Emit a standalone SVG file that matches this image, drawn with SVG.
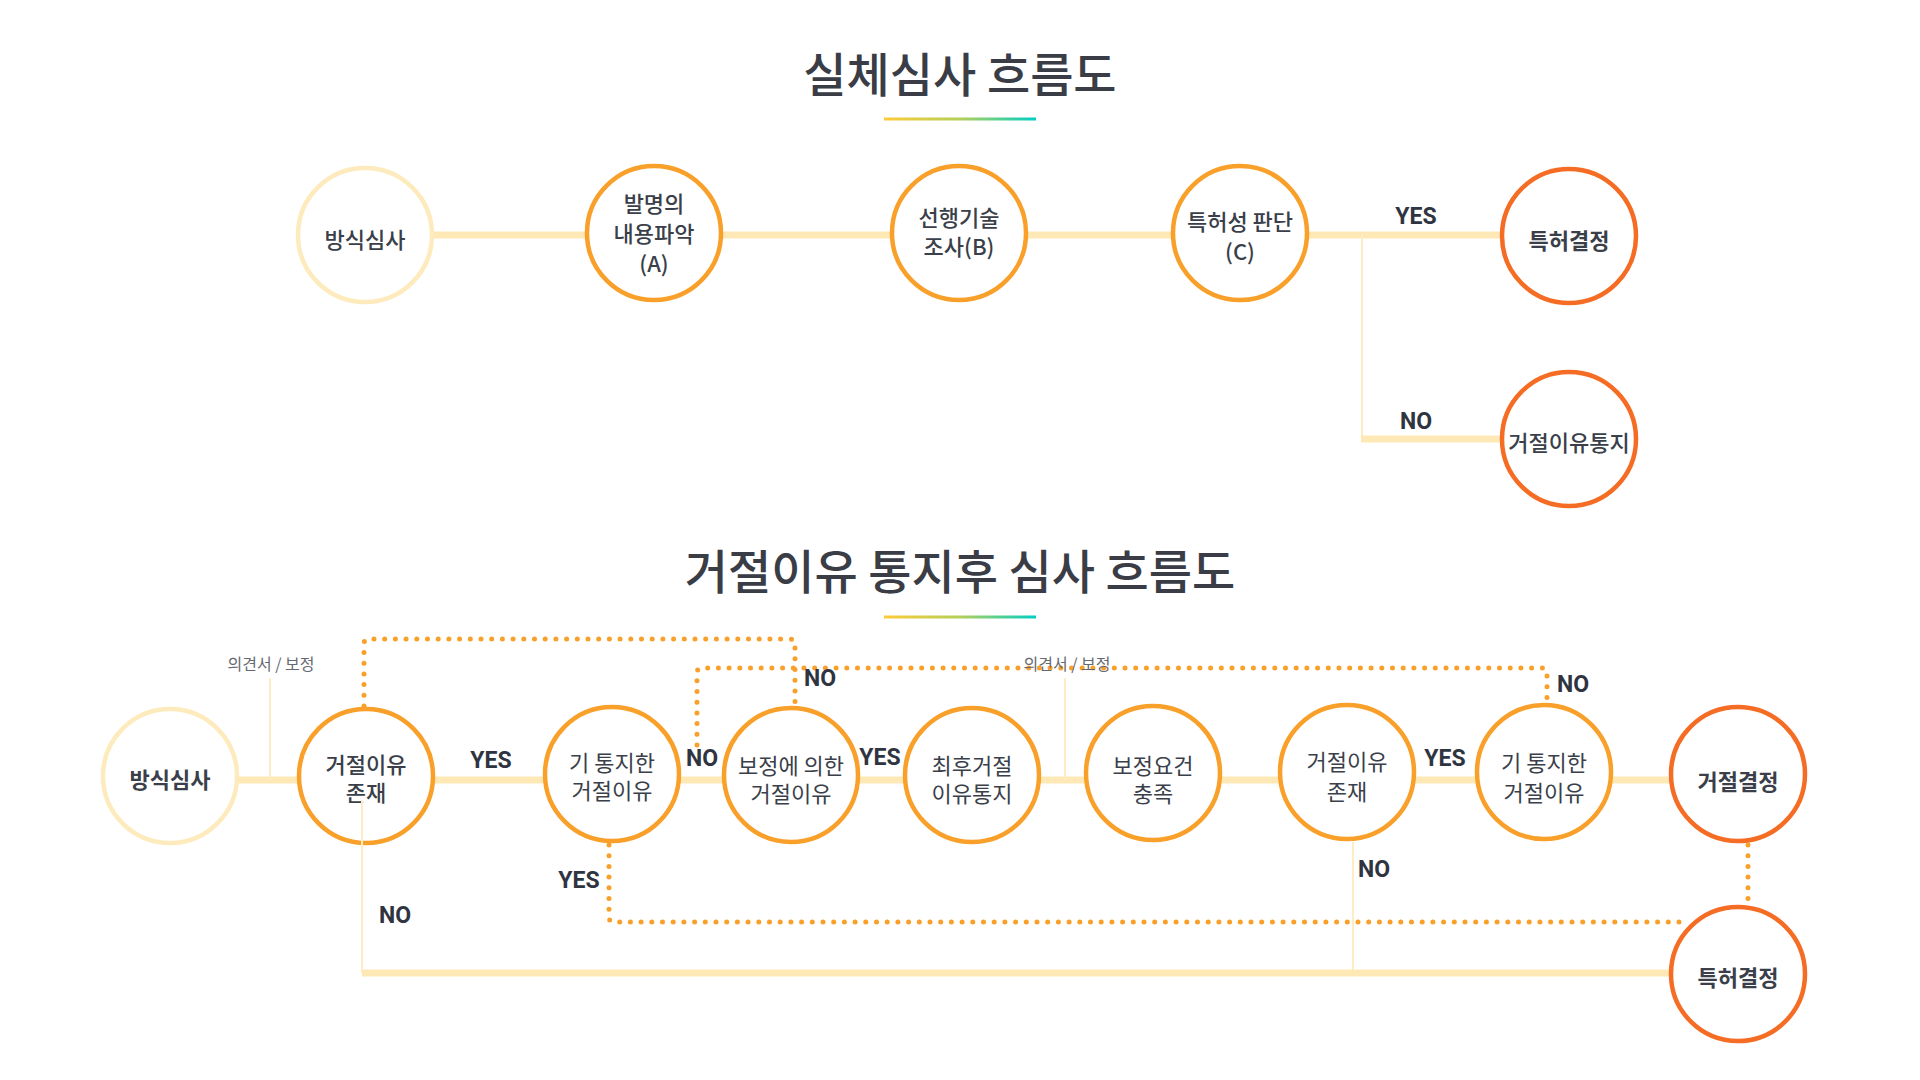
<svg xmlns="http://www.w3.org/2000/svg" width="1920" height="1080" viewBox="0 0 1920 1080">
<defs>
<linearGradient id="ul" x1="0" y1="0" x2="1" y2="0">
<stop offset="0" stop-color="#ffcb38"/>
<stop offset="0.5" stop-color="#b3cf58"/>
<stop offset="1" stop-color="#00cfc4"/>
</linearGradient>
<style>
.title{font-family:"Noto Sans CJK KR","Noto Sans",sans-serif;font-size:47px;font-weight:500;fill:#3a3d45;text-anchor:middle}
.nt{font-family:"Noto Sans CJK KR","Noto Sans",sans-serif;font-size:22px;font-weight:400;fill:#3a3f4a;text-anchor:middle}
.nb{font-weight:700}
.nm{font-weight:500}
.lab{font-family:Roboto,"Liberation Sans",sans-serif;font-size:23px;font-weight:700;fill:#2f3441;text-anchor:middle}
.note{font-family:"Noto Sans CJK KR","Noto Sans",sans-serif;font-size:16px;fill:#666a70;text-anchor:middle}
.pale{fill:#fff;stroke:#feebbd;stroke-width:4.5}
.mid{fill:#fff;stroke:#f9a02a;stroke-width:4.5}
.fin{fill:#fff;stroke:#f56d24;stroke-width:4.5}
.thick{stroke:#fee9b6;stroke-width:7;fill:none}
.thin{stroke:#fdecc4;stroke-width:2;fill:none}
.dot{stroke:#f9a02a;stroke-width:5;fill:none;stroke-linecap:round;stroke-dasharray:0 10.7}
</style>
</defs>
<rect width="1920" height="1080" fill="#fff"/>

<g id="titles">
<text class="title" x="960" y="92">실체심사 흐름도</text>
<rect x="884" y="117.5" width="152" height="3" fill="url(#ul)"/>
<text class="title" x="960" y="589">거절이유 통지후 심사 흐름도</text>
<rect x="884" y="615.5" width="152" height="3" fill="url(#ul)"/>
</g>

<g id="connectors">
<line class="thick" x1="365" y1="235" x2="1569" y2="235"/>
<line class="thin" x1="1362" y1="235" x2="1362" y2="439"/>
<line class="thick" x1="1361" y1="439" x2="1569" y2="439"/>
<line class="thick" x1="170" y1="780" x2="1738" y2="780"/>
<line class="thin" x1="270" y1="678" x2="270" y2="780" stroke-width="1.5"/>
<line class="thin" x1="1065" y1="678" x2="1065" y2="780" stroke-width="1.5"/>
<line class="thin" x1="1353" y1="842" x2="1353" y2="973"/>
<line class="thick" x1="362" y1="973" x2="1738" y2="973"/>
<path class="dot" d="M364 706 V644 Q364 639 369 639 H790 Q795 639 795 644 V706"/>
<path class="dot" d="M697 745 V673 Q697 668 702 668 H1542 Q1547 668 1547 673 V702"/>
<path class="dot" d="M609 845 V917 Q609 922 614 922 H1688"/>
<path class="dot" d="M1748 845 V902"/>
</g>

<g id="n1-formal"><circle class="pale" cx="365" cy="235" r="67"/><text class="nt nm" x="365" y="248">방식심사</text></g>
<g id="n1-a"><circle class="mid" cx="654" cy="233" r="67"/><text class="nt nm"><tspan x="654" y="212">발명의</tspan><tspan x="654" y="242">내용파악</tspan><tspan x="654" y="272">(A)</tspan></text></g>
<g id="n1-b"><circle class="mid" cx="959" cy="233" r="67"/><text class="nt nm"><tspan x="959" y="226">선행기술</tspan><tspan x="959" y="255">조사(B)</tspan></text></g>
<g id="n1-c"><circle class="mid" cx="1240" cy="233" r="67"/><text class="nt nm"><tspan x="1240" y="230">특허성 판단</tspan><tspan x="1240" y="260">(C)</tspan></text></g>
<g id="n1-grant"><circle class="fin" cx="1569" cy="236" r="67"/><text class="nt nb" x="1569" y="249">특허결정</text></g>
<g id="n1-notice"><circle class="fin" cx="1569" cy="439" r="67"/><text class="nt nm" x="1569" y="451">거절이유통지</text></g>

<g id="n2-formal"><circle class="pale" cx="170" cy="776" r="67"/><text class="nt nb" x="170" y="788">방식심사</text></g>
<g id="n2-exist1"><circle class="mid" cx="366" cy="776" r="67"/><text class="nt nm"><tspan x="366" y="773">거절이유</tspan><tspan x="366" y="801">존재</tspan></text></g>
<g id="n2-prev1"><circle class="mid" cx="612" cy="774" r="67"/><text class="nt"><tspan x="612" y="771">기 통지한</tspan><tspan x="612" y="799">거절이유</tspan></text></g>
<g id="n2-amend"><circle class="mid" cx="791" cy="775" r="67"/><text class="nt"><tspan x="791" y="774">보정에 의한</tspan><tspan x="791" y="802">거절이유</tspan></text></g>
<g id="n2-final"><circle class="mid" cx="972" cy="775" r="67"/><text class="nt"><tspan x="972" y="774">최후거절</tspan><tspan x="972" y="802">이유통지</tspan></text></g>
<g id="n2-req"><circle class="mid" cx="1153" cy="773" r="67"/><text class="nt"><tspan x="1153" y="774">보정요건</tspan><tspan x="1153" y="802">충족</tspan></text></g>
<g id="n2-exist2"><circle class="mid" cx="1347" cy="772" r="67"/><text class="nt"><tspan x="1347" y="770">거절이유</tspan><tspan x="1347" y="800">존재</tspan></text></g>
<g id="n2-prev2"><circle class="mid" cx="1544" cy="772" r="67"/><text class="nt"><tspan x="1544" y="771">기 통지한</tspan><tspan x="1544" y="801">거절이유</tspan></text></g>
<g id="n2-reject"><circle class="fin" cx="1738" cy="774" r="67"/><text class="nt nb" x="1738" y="790">거절결정</text></g>
<g id="n2-grant"><circle class="fin" cx="1738" cy="974" r="67"/><text class="nt nb" x="1738" y="986">특허결정</text></g>

<g id="overlay-connector">
<line class="thin" x1="362" y1="800" x2="362" y2="973"/>
</g>

<g id="labels">
<text class="lab" x="1416" y="224">YES</text>
<text class="lab" x="1416" y="429">NO</text>
<text class="lab" x="491" y="768">YES</text>
<text class="lab" x="702" y="766">NO</text>
<text class="lab" x="880" y="765">YES</text>
<text class="lab" x="1445" y="766">YES</text>
<text class="lab" x="820" y="686">NO</text>
<text class="lab" x="1573" y="692">NO</text>
<text class="lab" x="579" y="888">YES</text>
<text class="lab" x="395" y="923">NO</text>
<text class="lab" x="1374" y="877">NO</text>
<text class="note" x="271" y="670">의견서 / 보정</text>
<text class="note" x="1067" y="670">의견서 / 보정</text>
</g>
</svg>
